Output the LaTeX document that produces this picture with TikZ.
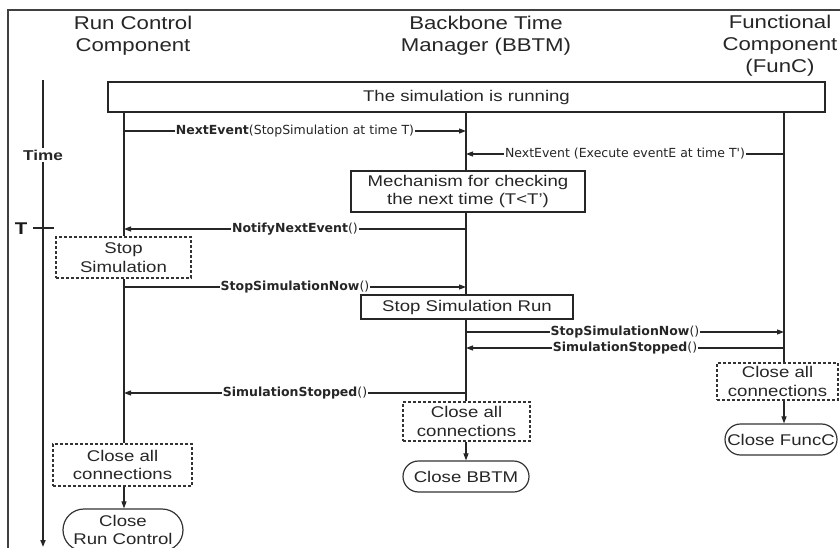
\documentclass[tikz,border=0pt]{standalone}
\usepackage{fontspec}
\setmainfont{Liberation Sans}[FakeStretch=1.2]
\newfontfamily\msgfont{DejaVu Sans}
\usetikzlibrary{arrows.meta,shapes.misc}

\tikzset{
  lifeline/.style={line width=1.6pt,draw=black!85},
  msg/.style={line width=1.1pt,draw=black!85,-{Triangle[length=7pt,width=5pt]}},
  msglabel/.style={fill=white,inner sep=1pt,text=black!85,font=\msgfont\fontsize{12.5}{14}\selectfont},
  header/.style={align=center,text=black!85,font=\fontsize{18.5}{22}\selectfont},
  boxtext/.style={align=center,inner sep=0pt,text=black!85,font=\fontsize{15.5}{18.5}\selectfont},
  solidbox/.style={boxtext,draw=black!85,line width=1.3pt},
  dashbox/.style={boxtext,draw=black!80,line width=1.1pt,densely dashed},
  endbox/.style={boxtext,draw=black!80,line width=1.2pt,rounded rectangle},
}

\begin{document}
\begin{tikzpicture}[x=1pt,y=-1pt]
\useasboundingbox (0,0) rectangle (840,548);
% frame
\coordinate (frtr) at (840,10);
\coordinate (frtl) at (8,10);
\coordinate (frbl) at (8,560);
\draw[line width=1.4pt,black!75] (frtr) -- (frtl) -- (frbl);

% headers
\node[header] (rchead) at (133,36) {Run Control\\Component};
\node[header] (bbhead) at (486,36) {Backbone Time\\Manager (BBTM)};
\node[header] (fchead) at (780,46) {Functional\\Component\\(FunC)};

% time axis
\coordinate (t0) at (43,80);
\coordinate (t1) at (43,547);
\draw[lifeline,-{Triangle[length=7pt,width=5pt]}] (t0) -- (t1);
\node[fill=white,inner sep=2pt,text=black!85,font=\fontsize{14.3}{16}\selectfont\bfseries] (timelbl) at (43,155) {Time};
\coordinate (tick0) at (33,228);
\coordinate (tick1) at (54,228);
\draw[line width=1.3pt,black!85] (tick0) -- (tick1);
\node[text=black!90,font=\fontsize{17}{18}\selectfont\bfseries] (tlbl) at (21,229) {T};

% boxes
\node[solidbox,minimum width=717pt,minimum height=30pt] (running) at (466.5,97) {The simulation is running};
\node[solidbox,minimum width=234pt,minimum height=41pt] (mech) at (468,191.5) {Mechanism for checking\\the next time (T<T')};
\node[dashbox,minimum width=135pt,minimum height=41pt] (stopsim) at (123.5,257.5) {Stop\\Simulation};
\node[solidbox,minimum width=212pt,minimum height=24pt] (stoprun) at (467,307) {Stop Simulation Run};
\node[dashbox,minimum width=121pt,minimum height=37pt] (fcclose) at (777.5,381.5) {Close all\\connections};
\node[endbox,minimum width=112pt,minimum height=31pt] (fcend) at (781,439.5) {Close FuncC};
\node[dashbox,minimum width=127pt,minimum height=39pt] (bbclose) at (466.5,421.5) {Close all\\connections};
\node[endbox,minimum width=126pt,minimum height=31pt] (bbend) at (466,476.5) {Close BBTM};
\node[dashbox,minimum width=139pt,minimum height=42pt] (rcclose) at (122.5,465) {Close all\\connections};
\node[endbox,minimum width=120pt,minimum height=42pt,font=\fontsize{15.5}{17.5}\selectfont] (rcend) at (123,530) {Close\\Run Control};

% lifelines
\coordinate (rc) at (124,112);
\coordinate (bb) at (466,112);
\coordinate (fc) at (784,112);
\draw[lifeline] (rc) -- (stopsim.north -| rc);
\draw[lifeline] (stopsim.south -| rc) -- (rcclose.north -| rc);
\draw[lifeline] (bb) -- (mech.north -| bb);
\draw[lifeline] (mech.south -| bb) -- (stoprun.north -| bb);
\draw[lifeline] (stoprun.south -| bb) -- (bbclose.north -| bb);
\draw[lifeline] (fc) -- (fcclose.north -| fc);
\draw[msg] (rcclose.south -| rc) -- (rcend.north -| rc);
\draw[msg] (bbclose.south -| bb) -- (bbend.north -| bb);
\draw[msg] (fcclose.south -| fc) -- (fcend.north -| fc);

% messages
\coordinate (m1) at (0,131);
\coordinate (m2) at (0,154);
\coordinate (m3) at (0,229);
\coordinate (m4) at (0,287);
\coordinate (m5) at (0,332);
\coordinate (m6) at (0,348);
\coordinate (m7) at (0,393);
\draw[msg] (rc |- m1) -- (bb |- m1) node[msglabel,midway] (l1) {\textbf{NextEvent}(StopSimulation at time T)};
\draw[msg] (fc |- m2) -- (bb |- m2) node[msglabel,midway] (l2) {NextEvent (Execute eventE at time T')};
\draw[msg] (bb |- m3) -- (rc |- m3) node[msglabel,midway] (l3) {\textbf{NotifyNextEvent}()};
\draw[msg] (rc |- m4) -- (bb |- m4) node[msglabel,midway] (l4) {\textbf{StopSimulationNow}()};
\draw[msg] (bb |- m5) -- (fc |- m5) node[msglabel,midway] (l5) {\textbf{StopSimulationNow}()};
\draw[msg] (fc |- m6) -- (bb |- m6) node[msglabel,midway] (l6) {\textbf{SimulationStopped}()};
\draw[msg] (bb |- m7) -- (rc |- m7) node[msglabel,midway] (l7) {\textbf{SimulationStopped}()};
\end{tikzpicture}
\end{document}
